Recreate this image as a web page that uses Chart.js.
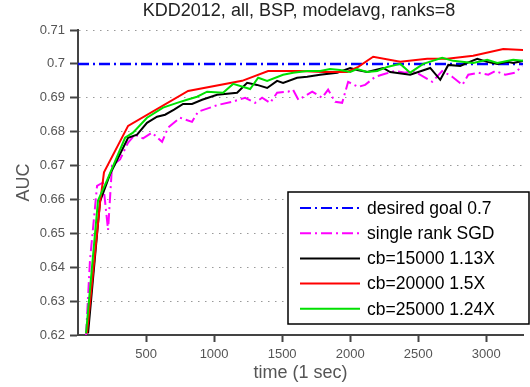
<!DOCTYPE html>
<html>
<head>
<meta charset="utf-8">
<script src="https://cdn.jsdelivr.net/npm/chart.js@4/dist/chart.umd.min.js"></script>
<style>
  html, body { margin: 0; padding: 0; background: #fff; }
  canvas { display: block; }
</style>
</head>
<body>
<canvas id="chart" width="530" height="387"></canvas>
<script>
// values
const titleText = "KDD2012, all, BSP, modelavg, ranks=8";
const xTicks = [500, 1000, 1500, 2000, 2500, 3000];
const yTicks = [0.62, 0.63, 0.64, 0.65, 0.66, 0.67, 0.68, 0.69, 0.7, 0.71];

const goalX = [0, 3270];
const goalY = [0.7, 0.7];

const sgdX = [59, 88, 140, 184, 221, 250, 309, 368, 419, 478, 544, 618, 662, 750, 838, 882, 971, 1029,
  1132, 1228, 1301, 1353, 1412, 1463, 1544, 1580, 1620, 1721, 1794, 1838, 1890, 1941, 1985, 2059, 2110,
  2184, 2257, 2331, 2404, 2456, 2500, 2603, 2676, 2750, 2824, 2868, 2941, 3015, 3066, 3140, 3213, 3265];
const sgdY = [0.620, 0.642, 0.664, 0.665, 0.651, 0.670, 0.6718, 0.6768, 0.6791, 0.678, 0.6797, 0.677,
  0.6812, 0.6841, 0.6829, 0.6859, 0.6871, 0.6879, 0.6888, 0.690, 0.6885, 0.690, 0.6885, 0.6915, 0.6918,
  0.6924, 0.6894, 0.6918, 0.690, 0.6924, 0.6888, 0.6885, 0.6947, 0.6932, 0.6938, 0.6962, 0.6971, 0.6979,
  0.6974, 0.6979, 0.6971, 0.6947, 0.6979, 0.6962, 0.6938, 0.6968, 0.6974, 0.6968, 0.6979, 0.6968, 0.6974,
  0.6994];

const cb15X = [74, 162, 235, 368, 434, 507, 581, 640, 706, 772, 838, 912, 1022, 1169, 1243, 1316, 1390,
  1463, 1507, 1610, 1684, 1779, 1904, 2000, 2051, 2125, 2243, 2294, 2441, 2588, 2662, 2721, 2809, 2860,
  2934, 3007, 3081, 3154, 3198, 3272];
const cb15Y = [0.6205, 0.6594, 0.6674, 0.6782, 0.6791, 0.6826, 0.6844, 0.685, 0.6865, 0.6882, 0.6882,
  0.6894, 0.6909, 0.6915, 0.6944, 0.6938, 0.6929, 0.695, 0.6944, 0.6959, 0.6962, 0.6968, 0.6974, 0.6988,
  0.6982, 0.6976, 0.6988, 0.6976, 0.6968, 0.6988, 0.6953, 0.6997, 0.6994, 0.7003, 0.7015, 0.7006, 0.7,
  0.7006, 0.7003, 0.7009];

const cb20X = [66, 162, 191, 368, 809, 1206, 1397, 1632, 1801, 1978, 2059, 2169, 2368, 2566, 2713, 2904,
  3125, 3272];
const cb20Y = [0.6205, 0.659, 0.668, 0.6817, 0.692, 0.695, 0.6979, 0.6979, 0.6976, 0.6976, 0.6991,
  0.7021, 0.7006, 0.7015, 0.7015, 0.7024, 0.7044, 0.7041];

const cb25X = [59, 147, 213, 346, 404, 507, 625, 728, 801, 875, 949, 1066, 1140, 1265, 1324, 1390, 1507,
  1581, 1684, 1779, 1853, 1926, 2000, 2051, 2125, 2199, 2272, 2368, 2441, 2537, 2676, 2757, 2904, 3007,
  3081, 3198, 3272];
const cb25Y = [0.6205, 0.6597, 0.6656, 0.6782, 0.6797, 0.6841, 0.6871, 0.6885, 0.6894, 0.6903, 0.6918,
  0.6915, 0.6941, 0.6926, 0.6959, 0.695, 0.6968, 0.6974, 0.6979, 0.6979, 0.6985, 0.6982, 0.6976, 0.6985,
  0.6976, 0.6979, 0.6991, 0.7, 0.6974, 0.7, 0.7018, 0.7009, 0.7003, 0.7012, 0.7003, 0.7012, 0.7009];

const FONT = "'Liberation Sans', Arial, Helvetica, sans-serif";
const AXIS = "#444";
const TEXT = "#555";

const pts = (xs, ys) => xs.map((x, i) => ({ x, y: ys[i] }));

const series = (label, xs, ys, color, dash, width, order) => ({
  label,
  data: pts(xs, ys),
  showLine: true,
  borderColor: color,
  backgroundColor: color,
  borderWidth: width,
  borderDash: dash,
  pointRadius: 0,
  tension: 0,
  order,
});

const DASHDOT = [11, 4, 2, 4];

// legend drawn by hand so that the dash-dot samples show
const boxLegend = {
  id: "boxLegend",
  afterDraw(chart) {
    const ctx = chart.ctx;
    const left = 288, top = 192, right = 529, bottom = 324;
    ctx.save();
    ctx.fillStyle = "#fff";
    ctx.fillRect(left, top, right - left, bottom - top);
    ctx.strokeStyle = "#000";
    ctx.lineWidth = 1.5;
    ctx.strokeRect(left, top, right - left, bottom - top);
    ctx.font = "17.5px " + FONT;
    ctx.textBaseline = "middle";
    chart.data.datasets.forEach((ds, i) => {
      const y = 208 + i * 25.2;
      ctx.strokeStyle = ds.borderColor;
      ctx.lineWidth = 2;
      ctx.setLineDash(ds.borderDash || []);
      ctx.beginPath();
      ctx.moveTo(300, y);
      ctx.lineTo(360, y);
      ctx.stroke();
      ctx.setLineDash([]);
      ctx.fillStyle = "#000";
      ctx.fillText(ds.label, 367, y + 1);
    });
    // title
    ctx.font = "18px " + FONT;
    ctx.fillStyle = "#222";
    ctx.textAlign = "center";
    ctx.fillText(titleText, 299, 11);
    ctx.restore();
  },
};

new Chart(document.getElementById("chart"), {
  type: "scatter",
  data: {
    datasets: [
      series("desired goal 0.7", goalX, goalY, "#0000ff", DASHDOT, 2.5, 4),
      series("single rank SGD", sgdX, sgdY, "#ff00ff", DASHDOT, 2, 3),
      series("cb=15000 1.13X", cb15X, cb15Y, "#000000", [], 2, 2),
      series("cb=20000 1.5X", cb20X, cb20Y, "#ff0000", [], 2, 1),
      series("cb=25000 1.24X", cb25X, cb25Y, "#00e000", [], 2, 0),
    ],
  },
  options: {
    responsive: false,
    devicePixelRatio: 1,
    animation: false,
    layout: { padding: { top: 30, right: 7, left: 0, bottom: 0 } },
    plugins: {
      legend: { display: false },
      title: { display: false },
      tooltip: { enabled: false },
    },
    scales: {
      x: {
        type: "linear",
        min: 0,
        max: 3270,
        afterFit: (s) => { s.height = 52; },
        afterBuildTicks: (s) => { s.ticks = xTicks.map((v) => ({ value: v })); },
        grid: {
          drawOnChartArea: false,
          drawTicks: true,
          tickLength: 7,
          tickColor: AXIS,
          tickWidth: 2,
        },
        border: { color: AXIS, width: 2 },
        ticks: {
          padding: 5,
          color: TEXT,
          font: { family: FONT, size: 13 },
          maxRotation: 0,
          callback: (v) => String(v),
        },
        title: {
          display: true,
          text: "time (1 sec)",
          color: TEXT,
          font: { family: FONT, size: 18 },
          padding: { top: 0, bottom: 3 },
        },
      },
      y: {
        type: "linear",
        min: 0.62,
        max: 0.71,
        afterFit: (s) => { s.width = 78; },
        afterBuildTicks: (s) => { s.ticks = yTicks.map((v) => ({ value: v })); },
        grid: {
          color: "#999",
          lineWidth: 1,
          drawTicks: true,
          tickLength: 8,
          tickColor: AXIS,
          tickWidth: 2,
          tickBorderDash: [],
        },
        border: { color: AXIS, width: 2, dash: [1.5, 5.5] },
        ticks: {
          padding: 5,
          color: TEXT,
          font: { family: FONT, size: 13 },
          callback: (v) => String(+v.toFixed(2)),
        },
        title: {
          display: true,
          text: "AUC",
          color: TEXT,
          font: { family: FONT, size: 18 },
          padding: { top: 13, bottom: 0 },
        },
      },
    },
  },
  plugins: [boxLegend],
});
</script>
</body>
</html>
